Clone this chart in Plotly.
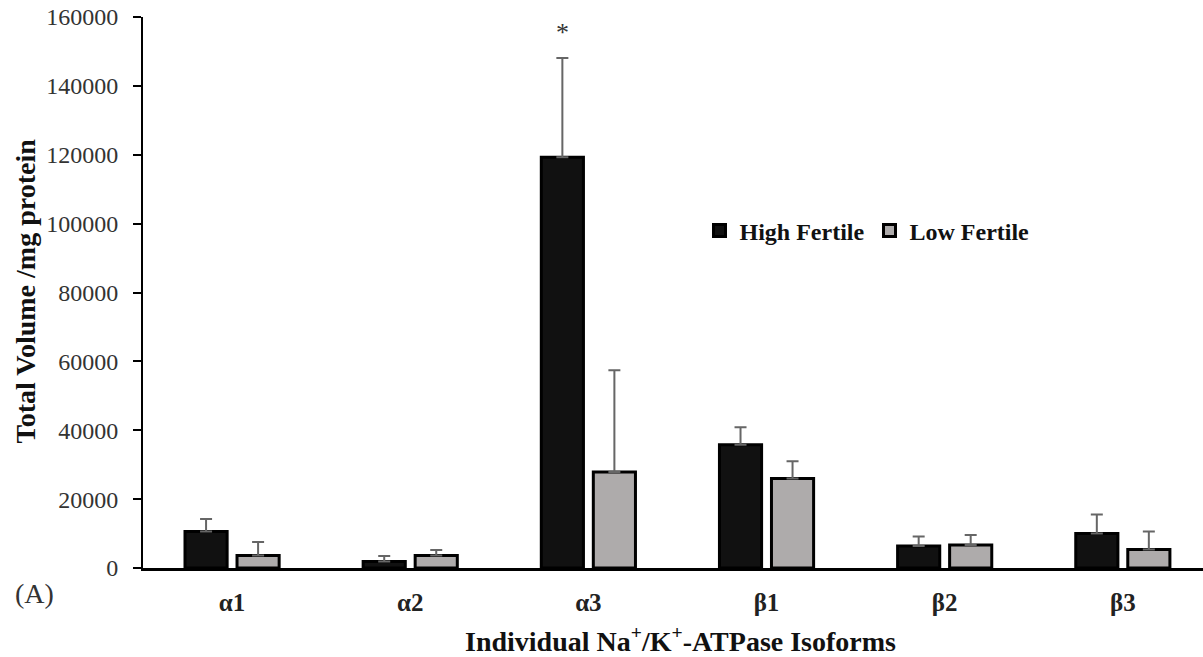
import plotly.graph_objects as go

# Na+/K+-ATPase isoform expression (total volume per mg protein)
isoforms = ["α1", "α2", "α3", "β1", "β2", "β3"]
high_fertile = [10600, 1900, 119300, 35800, 6400, 10000]
high_fertile_sd = [3600, 1580, 28800, 5100, 2780, 5560]
low_fertile = [3600, 3600, 27900, 26000, 6650, 5400]
low_fertile_sd = [3940, 1620, 29500, 5000, 2920, 5230]
y_ticks = [0, 20000, 40000, 60000, 80000, 100000, 120000, 140000, 160000]

SERIF = "Liberation Serif"

fig = go.Figure()
fig.add_trace(go.Bar(
    name="High Fertile", x=isoforms, y=high_fertile,
    marker=dict(color="#111111", line=dict(color="#000000", width=3)),
    error_y=dict(type="data", symmetric=False, array=high_fertile_sd,
                 arrayminus=[0] * len(isoforms), color="#666666",
                 thickness=2, width=6),
))
fig.add_trace(go.Bar(
    name="Low Fertile", x=isoforms, y=low_fertile,
    marker=dict(color="#aeabab", line=dict(color="#000000", width=3)),
    error_y=dict(type="data", symmetric=False, array=low_fertile_sd,
                 arrayminus=[0] * len(isoforms), color="#666666",
                 thickness=2, width=6),
))

# significance marker above the α3 high-fertile bar
fig.add_annotation(
    x="α3", y=high_fertile[2] + high_fertile_sd[2], xref="x", yref="y",
    text="*", showarrow=False, xshift=-26, yshift=25,
    font=dict(family=SERIF, size=26, color="#333333"),
)
# panel label
fig.add_annotation(
    x=-0.123, y=-0.047, xref="paper", yref="paper", xanchor="left", yanchor="middle",
    text="(A)", showarrow=False,
    font=dict(family=SERIF, size=28, color="#333333"),
)
# axis titles
fig.add_annotation(
    x=0.5075, y=-0.129, xref="paper", yref="paper", xanchor="center", yanchor="middle",
    text="Individual Na<sup>+</sup>/K<sup>+</sup>-ATPase Isoforms", showarrow=False,
    font=dict(family=SERIF, size=28, color="#111111", weight="bold"),
)
fig.add_annotation(
    x=-0.1113, y=0.502, xref="paper", yref="paper", xanchor="center", yanchor="middle",
    text="Total Volume /mg protein", showarrow=False, textangle=-90,
    font=dict(family=SERIF, size=28, color="#111111", weight="bold"),
)

fig.update_layout(
    width=1203, height=657,
    margin=dict(l=143, r=0, t=17, b=89),
    paper_bgcolor="white", plot_bgcolor="white",
    barmode="group", bargap=0.416, bargroupgap=0.19,
    font=dict(family=SERIF, color="#222222"),
    showlegend=True,
    legend=dict(
        orientation="h", x=0.525, y=0.612, xanchor="left", yanchor="middle",
        bgcolor="rgba(0,0,0,0)",
        font=dict(family=SERIF, size=24, color="#111111", weight="bold"),
        itemclick=False, tracegroupgap=0,
    ),
    xaxis=dict(
        range=[-0.5, 5.45], showline=True, linecolor="#000000", linewidth=3,
        ticks="", showgrid=False, zeroline=False,
        tickfont=dict(family=SERIF, size=25, color="#222222", weight="bold"),
        ticklabelstandoff=10,
    ),
    yaxis=dict(
        range=[0, 160000], tickvals=y_ticks, ticktext=[str(v) for v in y_ticks],
        showline=True, linecolor="#000000", linewidth=2,
        ticks="outside", ticklen=8, tickwidth=2, tickcolor="#000000",
        showgrid=False, zeroline=False,
        tickfont=dict(family=SERIF, size=24, color="#333333"),
        ticklabelstandoff=10,
    ),
)

fig.write_html("out.html")
